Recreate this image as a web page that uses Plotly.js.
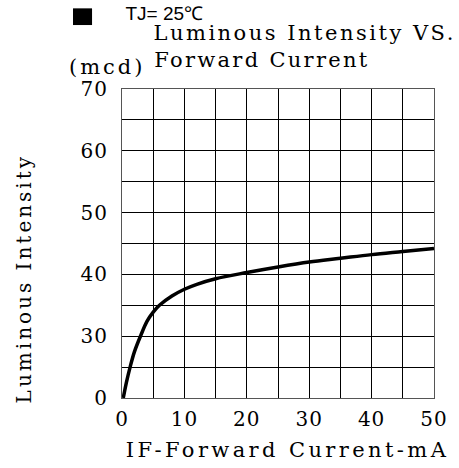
<!DOCTYPE html>
<html>
<head>
<meta charset="utf-8">
<script src="https://cdn.plot.ly/plotly-3.0.1.min.js"></script>
<style>
html,body{margin:0;padding:0;background:#fff;}
svg text{letter-spacing:3px;}
.xtick text, .ytick text{letter-spacing:1px;}
g.annotation[data-index="0"] text{letter-spacing:0;}
g.annotation[data-index="1"] text{letter-spacing:2.5px;}
g.annotation[data-index="2"] text{letter-spacing:2.3px;}
g.annotation[data-index="5"] text{letter-spacing:3.4px;}
</style>
</head>
<body>
<div id="chart" style="width:459px;height:468px;"></div>
<script>
// Forward current (mA)
var forwardCurrent = [0.2, 0.7, 1.3, 2.0, 3.0, 4.0, 5.0, 6.0, 8.0, 10, 12, 15, 20, 25, 30, 35, 40, 45, 50];
// Luminous intensity in the chart's axis frame (bottom gridline labelled "0" sits at 20)
var luminousIntensity = [20, 22.5, 25, 27.5, 30.1, 32.4, 33.9, 35.0, 36.5, 37.6, 38.4, 39.3, 40.3, 41.2, 42, 42.6, 43.2, 43.7, 44.2];

var xTickVals = [0, 5, 10, 15, 20, 25, 30, 35, 40, 45, 50];
var xTickText = ['0', '', '10', '', '20', '', '30', '', '40', '', '50'];
var yTickVals = [20, 25, 30, 35, 40, 45, 50, 55, 60, 65, 70];
var yTickText = ['0', '', '30', '', '40', '', '50', '', '60', '', '70'];

var serif = 'DejaVu Serif, serif';
var fsize = 20;

var trace = {
  x: forwardCurrent,
  y: luminousIntensity,
  type: 'scatter',
  mode: 'lines',
  line: {color: '#000', width: 3.5, shape: 'spline', smoothing: 1},
  hoverinfo: 'none'
};

var layout = {
  width: 459, height: 468,
  margin: {l: 122, r: 25, t: 89, b: 70},
  paper_bgcolor: '#fff', plot_bgcolor: '#fff',
  showlegend: false,
  xaxis: {
    range: [0, 50], tickmode: 'array', tickvals: xTickVals, ticktext: xTickText,
    showgrid: true, gridcolor: '#000', gridwidth: 1,
    showline: true, linecolor: '#555', linewidth: 1, mirror: true,
    zeroline: false, ticks: '', ticklabelstandoff: 3,
    tickfont: {family: serif, size: fsize, color: '#000'}
  },
  yaxis: {
    range: [20, 70], tickmode: 'array', tickvals: yTickVals, ticktext: yTickText,
    showgrid: true, gridcolor: '#000', gridwidth: 1,
    showline: true, linecolor: '#555', linewidth: 1, mirror: true,
    zeroline: false, ticks: '', ticklabelstandoff: 9,
    tickfont: {family: serif, size: fsize, color: '#000'}
  },
  shapes: [{
    type: 'rect', xref: 'paper', yref: 'paper',
    x0: -0.157, x1: -0.096, y0: 1.207, y1: 1.261,
    fillcolor: '#000', line: {width: 0}
  }],
  annotations: [
    {text: 'TJ= 25℃', xref: 'paper', yref: 'paper', x: 0.136, y: 1.245, xanchor: 'center', yanchor: 'middle', showarrow: false,
     font: {family: 'Liberation Sans, Arial, sans-serif', size: 19, color: '#000'}},
    {text: 'Luminous Intensity VS.', xref: 'paper', yref: 'paper', x: 0.584, y: 1.181, xanchor: 'center', yanchor: 'middle', showarrow: false,
     font: {family: serif, size: 21, color: '#000'}},
    {text: 'Forward Current', xref: 'paper', yref: 'paper', x: 0.448, y: 1.094, xanchor: 'center', yanchor: 'middle', showarrow: false,
     font: {family: serif, size: 21, color: '#000'}},
    {text: '(mcd)', xref: 'paper', yref: 'paper', x: -0.048, y: 1.072, xanchor: 'center', yanchor: 'middle', showarrow: false,
     font: {family: serif, size: 21, color: '#000'}},
    {text: 'Luminous Intensity', xref: 'paper', yref: 'paper', x: -0.313, y: 0.385, xanchor: 'center', yanchor: 'middle', textangle: -90, showarrow: false,
     font: {family: serif, size: fsize, color: '#000'}},
    {text: 'IF-Forward Current-mA', xref: 'paper', yref: 'paper', x: 0.531, y: -0.168, xanchor: 'center', yanchor: 'middle', showarrow: false,
     font: {family: serif, size: 21, color: '#000'}}
  ]
};

Plotly.newPlot('chart', [trace], layout, {staticPlot: true, displayModeBar: false});
</script>
</body>
</html>
